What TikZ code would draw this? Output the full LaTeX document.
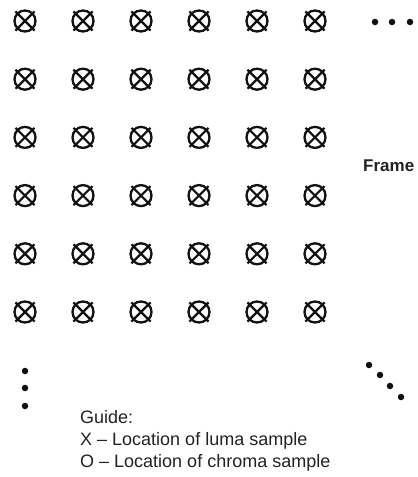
\documentclass[tikz,border=0pt]{standalone}
\usepackage{fontspec}
\setmainfont{Liberation Sans}
\usetikzlibrary{positioning}
\definecolor{border}{HTML}{111111}
\definecolor{textMain}{HTML}{222222}
\tikzset{
  sample/.style={
    circle, draw=border, line width=2.3pt, minimum size=21pt, inner sep=0pt,
  },
  cross/.style={border, line width=2.2pt, shorten <=-1.8pt, shorten >=-1.8pt},
  dot/.style={circle, fill=border, minimum size=6.5pt, inner sep=0pt},
  guide/.style={anchor=base west, inner sep=0pt, font=\fontsize{18}{21}\selectfont, text=textMain},
}

\begin{document}
\begin{tikzpicture}[x=1pt, y=-1pt]
  \useasboundingbox (0,0) rectangle (418,477);

  % Sample grid
  \foreach \r in {0,...,5} {
    \foreach \c in {0,...,5} {
      \node[sample] (s\r\c) at (25+58*\c, 21+58.2*\r) {};
      \draw[cross] (s\r\c.north west) -- (s\r\c.south east);
      \draw[cross] (s\r\c.north east) -- (s\r\c.south west);
    }
  }

  % Continuation dots
  \node[dot] (h1) at (375, 22) {};
  \node[dot] (h2) at (392, 22) {};
  \node[dot] (h3) at (410, 22) {};

  \node[dot] (v1) at (25, 371) {};
  \node[dot] (v2) at (25, 388) {};
  \node[dot] (v3) at (25, 406) {};

  \node[dot] (d1) at (369, 365) {};
  \node[dot] (d2) at (380, 375) {};
  \node[dot] (d3) at (390, 386) {};
  \node[dot] (d4) at (401, 397) {};

  % Label
  \node[anchor=base west, inner sep=0pt, font=\fontsize{17}{20}\selectfont\bfseries, text=textMain] (frame) at (363, 171) {Frame};

  % Guide
  \node[guide] (g1) at (80, 423) {Guide:};
  \node[guide] (g2) at (80, 445) {X -- Location of luma sample};
  \node[guide] (g3) at (80, 467) {O -- Location of chroma sample};

\end{tikzpicture}
\end{document}
